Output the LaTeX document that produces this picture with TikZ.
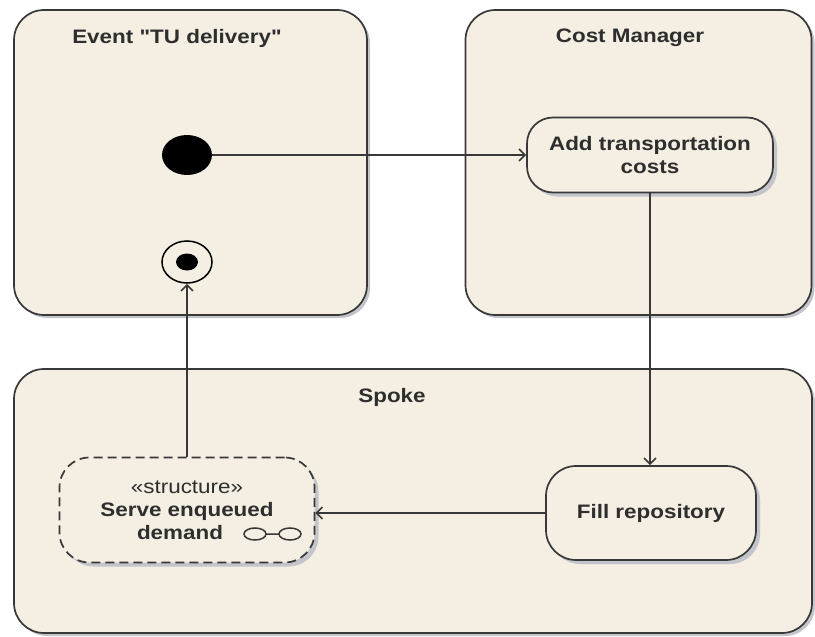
\documentclass[tikz,border=0pt]{standalone}
\usepackage{fontspec}
\setmainfont{Liberation Sans}[FakeStretch=1.15, Ligatures=TeXOff]
\usetikzlibrary{
  shapes.geometric,
  arrows.meta,
  positioning,
  shadows
}
\definecolor{swimbeige}{HTML}{F4EEE3}
\definecolor{shadowgray}{HTML}{C3C5CB}
\definecolor{edgegray}{HTML}{383838}

\begin{document}
\begin{tikzpicture}[
    x=1pt, y=-1pt,
    every node/.style={font=\fontsize{19.5}{23}\selectfont\bfseries, align=center, text=black!82},
    partition/.style={
      rectangle, draw=edgegray, line width=1.7pt,
      rounded corners=30pt, fill=swimbeige, inner sep=0pt,
      drop shadow={shadow xshift=3pt, shadow yshift=-3pt, fill=shadowgray, opacity=1}
    },
    title/.style={font=\fontsize{19.5}{23}\selectfont\bfseries},
    action/.style={
      rectangle, draw=edgegray, line width=1.7pt,
      rounded corners=28pt, fill=swimbeige, inner sep=2pt,
      drop shadow={shadow xshift=4pt, shadow yshift=-4pt, fill=shadowgray, opacity=1}
    },
    structaction/.style={action, dash pattern=on 9pt off 5pt},
    initial/.style={ellipse, fill=black, minimum width=50pt, minimum height=40pt, inner sep=0pt},
    final/.style={
      ellipse, draw=black, line width=1.5pt, fill=swimbeige,
      minimum width=50pt, minimum height=42pt, inner sep=0pt,
      path picture={\fill[black] (path picture bounding box.center) ellipse (11pt and 8.5pt);}
    },
    flow/.style={-{Straight Barb[length=6pt, width=12pt]}, line width=1.6pt, draw=edgegray},
  ]
  \useasboundingbox (0,0) rectangle (815,637);

  % --- Partitions ---
  \node[partition, minimum width=353pt, minimum height=305pt] (evpart) at (190.5,162.5) {};
  \node[partition, minimum width=346pt, minimum height=305pt] (costpart) at (638.5,162.5) {};
  \node[partition, minimum width=798pt, minimum height=264pt] (spokepart) at (413,501) {};

  \node[title] (evtitle) at (177,38) {Event "TU delivery"};
  \node[title] (costtitle) at (630,38) {Cost Manager};
  \node[title] (spoketitle) at (392,397) {Spoke};

  % --- Nodes ---
  \node[initial] (start) at (187,155) {};
  \node[final] (stop) at (187,262) {};

  \node[action, minimum width=246pt, minimum height=75pt, rounded corners=26pt] (addcost) at (650,155)
    {Add transportation\\costs};

  \node[action, minimum width=210pt, minimum height=94pt, rounded corners=30pt] (fillrepo) at (651,513)
    {Fill repository};

  \node[structaction, minimum width=255pt, minimum height=105pt, rounded corners=30pt] (serve) at (187,510)
    {{\mdseries «structure»}\\Serve enqueued\\demand\hspace*{14pt}};

  % glasses icon of the structured activity
  \draw[line width=1.5pt, edgegray] (255,534) ellipse (11pt and 6pt)
    (266,534) -- (279,534)
    (290,534) ellipse (11pt and 6pt);

  % --- Arrows ---
  \draw[flow] (start.east) -- (addcost.west);
  \draw[flow] (addcost.south) -- (addcost.south |- fillrepo.north);
  \draw[flow] (fillrepo.west) -- (fillrepo.west -| serve.east);
  \draw[flow] (serve.north) -- (stop.south);
\end{tikzpicture}
\end{document}
